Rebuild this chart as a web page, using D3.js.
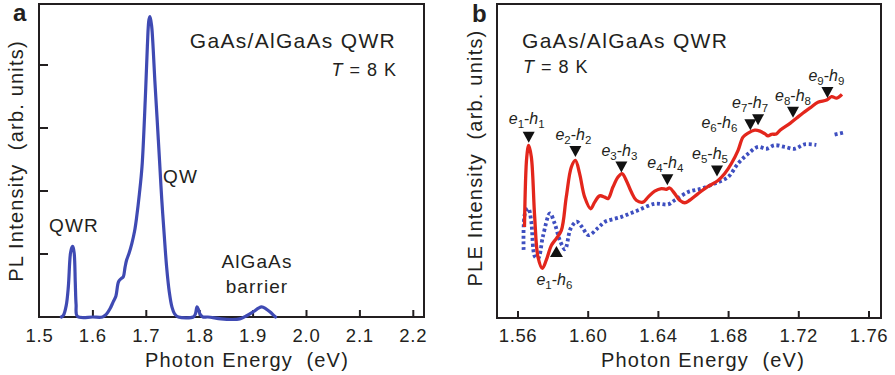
<!DOCTYPE html>
<html>
<head>
<meta charset="utf-8">
<script src="https://cdn.jsdelivr.net/npm/d3@7"></script>
<style>
  html, body { margin: 0; padding: 0; background: #fff; }
  svg { display: block; }
  text { font-family: "Liberation Sans", Arial, Helvetica, sans-serif; fill: #231f20; }
</style>
</head>
<body>
<svg id="chart" width="895" height="375"></svg>
<script>
// ---------- Panel a: PL spectrum ----------
const plEnergy = [1.541, 1.545, 1.550, 1.554, 1.558, 1.561, 1.5625, 1.565, 1.567, 1.5685, 1.571,
  1.600, 1.618, 1.625, 1.632, 1.638, 1.643, 1.648, 1.653, 1.657, 1.660, 1.663, 1.668, 1.673, 1.678,
  1.682, 1.687, 1.692, 1.698, 1.702, 1.705, 1.707, 1.710, 1.713, 1.716, 1.720, 1.725, 1.729, 1.734,
  1.738, 1.743, 1.748, 1.753, 1.760, 1.788, 1.792, 1.795, 1.798, 1.801, 1.806, 1.815, 1.840,
  1.860, 1.875, 1.888, 1.900, 1.910, 1.916, 1.924, 1.932, 1.938, 1.942];
const plIntensity = [0.0, 0.03, 0.18, 0.48, 1.01, 1.11, 1.12, 1.01, 0.55, 0.2, 0.01,
  0.0, 0.0, 0.04, 0.13, 0.24, 0.33, 0.56, 0.61, 0.64, 0.78, 0.90, 1.02, 1.17, 1.36,
  1.59, 1.95, 2.39, 3.44, 4.30, 4.72, 4.77, 4.62, 4.24, 3.75, 3.18, 2.45, 1.86, 1.25,
  0.80, 0.40, 0.16, 0.05, 0.0, 0.0, 0.05, 0.16, 0.11, 0.04, 0.0, 0.0, -0.03,
  -0.04, -0.03, 0.02, 0.08, 0.14, 0.16, 0.13, 0.08, 0.03, 0.0];
const plXTicks = [1.5, 1.6, 1.7, 1.8, 1.9, 2.0, 2.1, 2.2];
const plYTicks = [1, 2, 3, 4];
const plPeakLabels = ["QWR", "QW", "AlGaAs", "barrier"];

// ---------- Panel b: PLE spectra ----------
const pleEnergyRed = [1.5637, 1.5650, 1.5661, 1.5676, 1.5695, 1.5714, 1.5739, 1.5761, 1.579, 1.5818,
  1.5847, 1.5875, 1.5904, 1.5927, 1.5951, 1.598, 1.6014, 1.6037, 1.6065, 1.6094, 1.6113, 1.6141,
  1.617, 1.6193, 1.6217, 1.6246, 1.6274, 1.6312, 1.6341, 1.6379, 1.6417, 1.6445, 1.6464, 1.6493,
  1.6521, 1.655, 1.6578, 1.6626, 1.6683, 1.674, 1.6778, 1.6816, 1.6854, 1.6882, 1.6911, 1.6949,
  1.6979, 1.7006, 1.7025, 1.7044, 1.7072, 1.7093, 1.715, 1.7188, 1.7224, 1.7264, 1.7309, 1.7359,
  1.7387, 1.7416, 1.7446];
const pleIntensityRed = [2.90, 5.13, 5.50, 5.13, 3.22, 1.94, 1.58, 1.84, 2.31, 2.53,
  2.79, 3.85, 4.81, 5.02, 4.60, 3.85, 3.48, 3.69, 3.89, 3.85, 3.80, 4.17,
  4.49, 4.60, 4.38, 4.01, 3.75, 3.69, 3.85, 4.04, 4.12, 4.10, 4.14, 3.96,
  3.75, 3.67, 3.75, 3.96, 4.19, 4.38, 4.60, 4.92, 5.34, 5.76, 5.89, 5.98,
  5.95, 5.87, 5.80, 5.85, 5.86, 5.98, 6.20, 6.37, 6.53, 6.69, 6.87, 6.94,
  7.05, 7.00, 7.12];
const pleEnergyBlue = [1.5632, 1.5640, 1.5659, 1.5675, 1.5697, 1.5715, 1.5742, 1.5782, 1.5809, 1.5840,
  1.5868, 1.5900, 1.5934, 1.5965, 1.6001, 1.6056, 1.6094, 1.6189, 1.6284, 1.6379, 1.6455, 1.6493,
  1.6569, 1.6645, 1.6721, 1.6797, 1.6854, 1.6911, 1.6968, 1.7015, 1.7062, 1.7119, 1.7176, 1.7233,
  1.7300, 1.7350, 1.7404, 1.7452];
const pleIntensityBlue = [2.17, 3.34, 3.49, 3.10, 1.95, 1.90, 2.60, 3.33, 3.01, 2.45,
  2.19, 2.85, 3.07, 2.90, 2.64, 2.87, 3.06, 3.22, 3.43, 3.64, 3.62, 3.75,
  4.01, 4.12, 4.28, 4.49, 4.92, 5.23, 5.45, 5.39, 5.50, 5.45, 5.39, 5.53,
  5.51, null, 5.84, 5.90];
const pleXTicks = [1.56, 1.60, 1.64, 1.68, 1.72, 1.76];

// optical transitions (marker tips)
const transE  = [1, 2, 3, 4, 5, 6, 7, 8, 9, 1];
const transH  = [1, 2, 3, 4, 5, 6, 7, 8, 9, 6];
const transEnergy = [1.5661, 1.5927, 1.6189, 1.6451, 1.6734, 1.6924, 1.6968, 1.7167, 1.7363, 1.5819];
const transLevel  = [5.58, 5.13, 4.63, 4.23, 4.51, 5.98, 6.14, 6.38, 7.01, 2.29];
const transUp     = [false, false, false, false, false, false, false, false, false, true];
// label placement relative to marker tip (px)
const labelDx = [-2, -2, -2, -2, -7, -31, -8, 0, -1, -2];
const labelDy = [-19, -17, -17, -17, -17, -2, -17, -17, -17, 39];

const svg = d3.select("#chart");
const ink = "#231f20";

// ================= Panel a =================
const ax = d3.scaleLinear().domain([1.5, 2.2]).range([39.5, 413.3]);
const ay = d3.scaleLinear().domain([0, 5]).range([317, 2]);
const aBox = {x0: 39, x1: 424, y0: 4, y1: 317};

const ga = svg.append("g");
ga.selectAll(".xt").data(plXTicks.slice(1)).enter().append("line")
  .attr("x1", d => ax(d)).attr("x2", d => ax(d))
  .attr("y1", aBox.y1).attr("y2", aBox.y1 - 7)
  .attr("stroke", ink).attr("stroke-width", 2);
ga.selectAll(".yt").data(plYTicks).enter().append("line")
  .attr("x1", aBox.x0).attr("x2", aBox.x0 + 9)
  .attr("y1", d => ay(d)).attr("y2", d => ay(d))
  .attr("stroke", ink).attr("stroke-width", 2);
ga.append("rect").attr("x", aBox.x0).attr("y", aBox.y0)
  .attr("width", aBox.x1 - aBox.x0).attr("height", aBox.y1 - aBox.y0)
  .attr("fill", "none").attr("stroke", ink).attr("stroke-width", 2);
ga.selectAll(".xl").data(plXTicks).enter().append("text")
  .attr("x", d => ax(d)).attr("y", 342).attr("text-anchor", "middle")
  .style("font-size", "18.5px").style("letter-spacing", "0.8px")
  .text(d => d.toFixed(1));

const plData = plEnergy.map((e, i) => [e, plIntensity[i]]);
ga.append("path").datum(plData)
  .attr("d", d3.line().x(d => ax(d[0])).y(d => ay(d[1])).curve(d3.curveCatmullRom.alpha(0.5)))
  .attr("fill", "none").attr("stroke", "#3f4ab3").attr("stroke-width", 3.2)
  .attr("stroke-linejoin", "round").attr("stroke-linecap", "round");

ga.append("text").attr("x", 13).attr("y", 21)
  .style("font-size", "24px").style("font-weight", "bold").text("a");
ga.append("text").attr("x", 396).attr("y", 48).attr("text-anchor", "end")
  .style("font-size", "21px").style("letter-spacing", "1.3px").text("GaAs/AlGaAs QWR");
const ta = ga.append("text").attr("x", 397).attr("y", 76).attr("text-anchor", "end")
  .style("font-size", "18px").style("letter-spacing", "1px");
ta.append("tspan").style("font-style", "italic").text("T");
ta.append("tspan").text(" = 8 K");
ga.append("text").attr("x", 49).attr("y", 232)
  .style("font-size", "19px").style("letter-spacing", "1.2px").text(plPeakLabels[0]);
ga.append("text").attr("x", 163).attr("y", 183)
  .style("font-size", "19px").style("letter-spacing", "1.2px").text(plPeakLabels[1]);
ga.append("text").attr("x", 257).attr("y", 268).attr("text-anchor", "middle")
  .style("font-size", "19px").style("letter-spacing", "1.1px").text(plPeakLabels[2]);
ga.append("text").attr("x", 257).attr("y", 293).attr("text-anchor", "middle")
  .style("font-size", "19px").style("letter-spacing", "1.1px").text(plPeakLabels[3]);
ga.append("text").attr("x", 247).attr("y", 367).attr("text-anchor", "middle")
  .style("white-space", "pre")
  .style("font-size", "20px").style("letter-spacing", "1.2px").text("Photon Energy  (eV)");
ga.append("text").attr("transform", "translate(23,161) rotate(-90)").attr("text-anchor", "middle")
  .style("white-space", "pre")
  .style("font-size", "20px").style("letter-spacing", "1.2px").text("PL Intensity  (arb. units)");

// ================= Panel b =================
const bx = d3.scaleLinear().domain([1.56, 1.76]).range([518, 869]);
const by = d3.scaleLinear().domain([0, 10]).range([318, 4]);
const bBox = {x0: 497, x1: 881, y0: 4, y1: 318};

const gb = svg.append("g");
gb.selectAll(".xt").data(pleXTicks).enter().append("line")
  .attr("x1", d => bx(d)).attr("x2", d => bx(d))
  .attr("y1", bBox.y1).attr("y2", bBox.y1 - 7)
  .attr("stroke", ink).attr("stroke-width", 2);
gb.append("rect").attr("x", bBox.x0).attr("y", bBox.y0)
  .attr("width", bBox.x1 - bBox.x0).attr("height", bBox.y1 - bBox.y0)
  .attr("fill", "none").attr("stroke", ink).attr("stroke-width", 2);
gb.selectAll(".xl").data(pleXTicks).enter().append("text")
  .attr("x", d => bx(d)).attr("y", 342).attr("text-anchor", "middle")
  .style("font-size", "18.5px").style("letter-spacing", "0.6px")
  .text(d => d.toFixed(2));

const blueData = pleEnergyBlue.map((e, i) => [e, pleIntensityBlue[i]]);
gb.append("path").datum(blueData)
  .attr("d", d3.line().defined(d => d[1] !== null).x(d => bx(d[0])).y(d => by(d[1]))
    .curve(d3.curveCatmullRom.alpha(0.5)))
  .attr("fill", "none").attr("stroke", "#3e4fc0").attr("stroke-width", 3.8)
  .attr("stroke-dasharray", "3,2.6");

const redData = pleEnergyRed.map((e, i) => [e, pleIntensityRed[i]]);
gb.append("path").datum(redData)
  .attr("d", d3.line().x(d => bx(d[0])).y(d => by(d[1])).curve(d3.curveCatmullRom.alpha(0.5)))
  .attr("fill", "none").attr("stroke", "#e3261c").attr("stroke-width", 3.3)
  .attr("stroke-linejoin", "round");

// transition markers
transEnergy.forEach((e, i) => {
  const x = bx(e), y = by(transLevel[i]);
  const p = transUp[i]
    ? `M${x},${y} L${x + 6.5},${y + 11} L${x - 6.5},${y + 11} Z`
    : `M${x - 6},${y - 11} L${x + 6},${y - 11} L${x},${y} Z`;
  gb.append("path").attr("d", p).attr("fill", "#111");
  const t = gb.append("text").attr("x", x + labelDx[i]).attr("y", y + labelDy[i])
    .attr("text-anchor", "middle").style("font-size", "16px");
  t.append("tspan").style("font-style", "italic").text("e");
  t.append("tspan").attr("dy", 4).style("font-size", "11.5px").text(transE[i]);
  t.append("tspan").attr("dy", -4).text("-");
  t.append("tspan").style("font-style", "italic").text("h");
  t.append("tspan").attr("dy", 4).style("font-size", "11.5px").text(transH[i]);
});

gb.append("text").attr("x", 472).attr("y", 22)
  .style("font-size", "24px").style("font-weight", "bold").text("b");
gb.append("text").attr("x", 522).attr("y", 48)
  .style("font-size", "21px").style("letter-spacing", "1.3px").text("GaAs/AlGaAs QWR");
const tb = gb.append("text").attr("x", 523).attr("y", 73)
  .style("font-size", "18px").style("letter-spacing", "1px");
tb.append("tspan").style("font-style", "italic").text("T");
tb.append("tspan").text(" = 8 K");
gb.append("text").attr("x", 703).attr("y", 367).attr("text-anchor", "middle")
  .style("white-space", "pre")
  .style("font-size", "20px").style("letter-spacing", "1.2px").text("Photon Energy  (eV)");
gb.append("text").attr("transform", "translate(482,158) rotate(-90)").attr("text-anchor", "middle")
  .style("white-space", "pre")
  .style("font-size", "20px").style("letter-spacing", "1.2px").text("PLE Intensity  (arb. units)");
</script>
</body>
</html>
